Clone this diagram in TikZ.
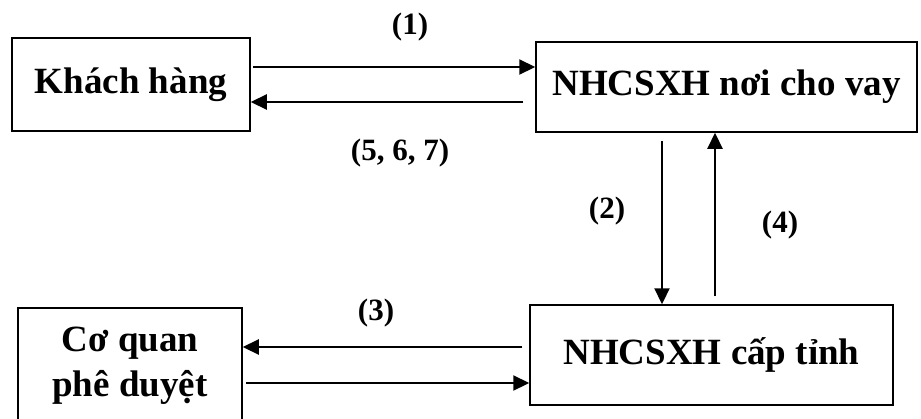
\documentclass[tikz,border=0pt]{standalone}
\usepackage{fontspec}
\setmainfont{Liberation Serif}
\usetikzlibrary{arrows.meta}
\begin{document}
\begin{tikzpicture}[x=1pt,y=-1pt,
  box/.style={draw,line width=1.5pt,inner sep=0pt,align=center,
    font=\fontsize{37}{45}\selectfont\bfseries},
  flow/.style={line width=2.2pt,-{Triangle[length=16pt,width=15pt]}},
  lbl/.style={font=\fontsize{31}{36}\selectfont\bfseries,inner sep=0pt}]
\useasboundingbox (0,0) rectangle (921,418);
\clip (0,0) rectangle (921,418);

% boxes
\node[box,minimum width=238pt,minimum height=93pt] (kh) at (131,84.5) {Khách hàng};
\node[box,minimum width=381pt,minimum height=90pt] (nh) at (726.5,87) {NHCSXH nơi cho vay};
\node[box,minimum width=224pt,minimum height=116pt] (cq) at (130,366) {Cơ quan\\phê duyệt};
\node[box,minimum width=363pt,minimum height=100pt] (tinh) at (711.5,355) {NHCSXH cấp tỉnh};

% levels of the connectors
\coordinate (r1) at (0,67);
\coordinate (r5) at (0,102);
\coordinate (r3) at (0,347);
\coordinate (r6) at (0,383);
\coordinate (c2) at (662,0);
\coordinate (c4) at (715,0);

% connectors
\draw[flow,shorten <=2pt] (kh.east |- r1) -- (nh.west |- r1);
\draw[flow,shorten <=12pt] (nh.west |- r5) -- (kh.east |- r5);
\draw[flow,shorten <=8pt] (nh.south -| c2) -- (tinh.north -| c2);
\draw[flow,shorten <=8pt] (tinh.north -| c4) -- (nh.south -| c4);
\draw[flow,shorten <=7pt] (tinh.west |- r3) -- (cq.east |- r3);
\draw[flow,shorten <=3pt] (cq.east |- r6) -- (tinh.west |- r6);

% step labels
\node[lbl] (l1) at (410,27) {(1)};
\node[lbl] (l5) at (400,153) {(5, 6, 7)};
\node[lbl] (l2) at (607,211) {(2)};
\node[lbl] (l4) at (780,225) {(4)};
\node[lbl] (l3) at (376,313) {(3)};
\end{tikzpicture}
\end{document}
